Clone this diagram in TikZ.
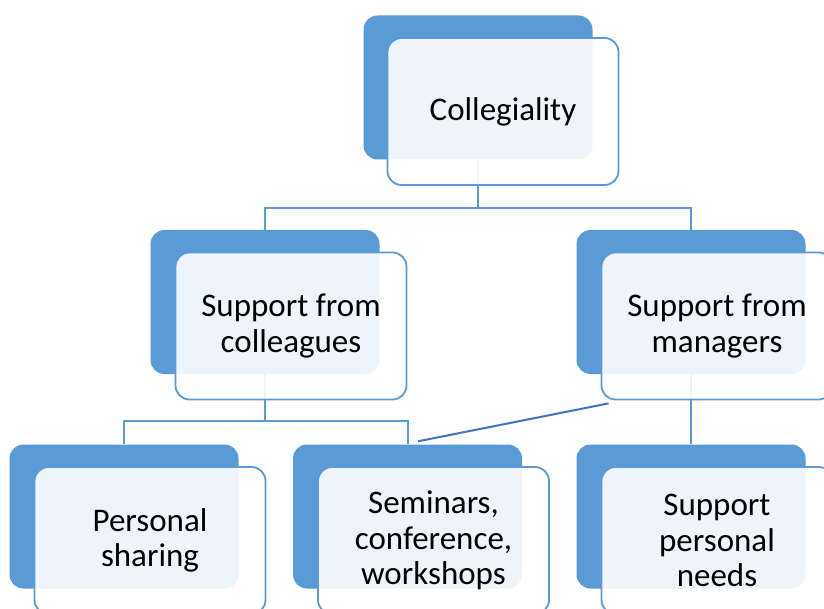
\documentclass[tikz,border=0pt]{standalone}
\usepackage{fontspec}
\setmainfont{Carlito}
\usepackage{tikz}
\usetikzlibrary{positioning, calc}

\tikzset{
  backbox/.style={rectangle, rounded corners=14pt, fill=backcolor, draw=none, minimum width=229pt, minimum height=144pt, inner sep=0pt},
  frontbox/.style={rectangle, rounded corners=14pt, draw=backcolor, line width=1.8pt, fill=white, fill opacity=0.9, text opacity=1, minimum width=231pt, minimum height=147pt, inner sep=0pt, align=center, font=\fontsize{33}{35.5}\selectfont},
  conn/.style={draw=backcolor, line width=2pt},
  stray/.style={draw=straycolor, line width=2pt}
}

\begin{document}
\begin{tikzpicture}[x=1pt, y=1pt]
  % Define colors
  \definecolor{backcolor}{RGB}{91,155,213}    % Blue
  \definecolor{straycolor}{RGB}{68,114,196}   % Darker blue

  \clip (0,0) rectangle (824,-609);
  \fill[white] (0,0) rectangle (824,-609);

  % Back boxes
  \node[backbox] (coll) at (478,-87.5) {};
  \node[backbox] (supc) at (265,-302) {};
  \node[backbox] (supm) at (691,-302) {};
  \node[backbox] (pers) at (124,-516.5) {};
  \node[backbox] (semi) at (407.5,-516.5) {};
  \node[backbox] (need) at (691,-516.5) {};

  % Connectors between boxes
  \draw[conn] (coll.south) -- ++(0,-48) -| (supc.north);
  \draw[conn] (coll.south) -- ++(0,-48) -| (supm.north);
  \draw[conn] (supc.south) -- ++(0,-47) -| (pers.north);
  \draw[conn] (supc.south) -- ++(0,-47) -| (semi.north);
  \draw[conn] (supm.south) -- (need.north);

  % Front boxes with text
  \node[frontbox, xshift=25pt, yshift=-24pt] (collf) at (coll) {Collegiality};
  \node[frontbox, xshift=26pt, yshift=-24pt] (supcf) at (supc) {Support from\\colleagues};
  \node[frontbox, xshift=26pt, yshift=-24pt] (supmf) at (supm) {Support from\\managers};
  \node[frontbox, xshift=26pt, yshift=-24pt] (persf) at (pers) {Personal\\sharing};
  \node[frontbox, xshift=26pt, yshift=-24pt] (semif) at (semi) {Seminars,\\conference,\\workshops};
  \node[frontbox, xshift=26pt, yshift=-24pt] (needf) at (need) {Support\\personal\\needs};

  % Stray line
  \draw[stray] ([xshift=10.5pt, yshift=3pt]semi.north) -- ([xshift=8pt, yshift=-3pt]supmf.south west);
\end{tikzpicture}
\end{document}
